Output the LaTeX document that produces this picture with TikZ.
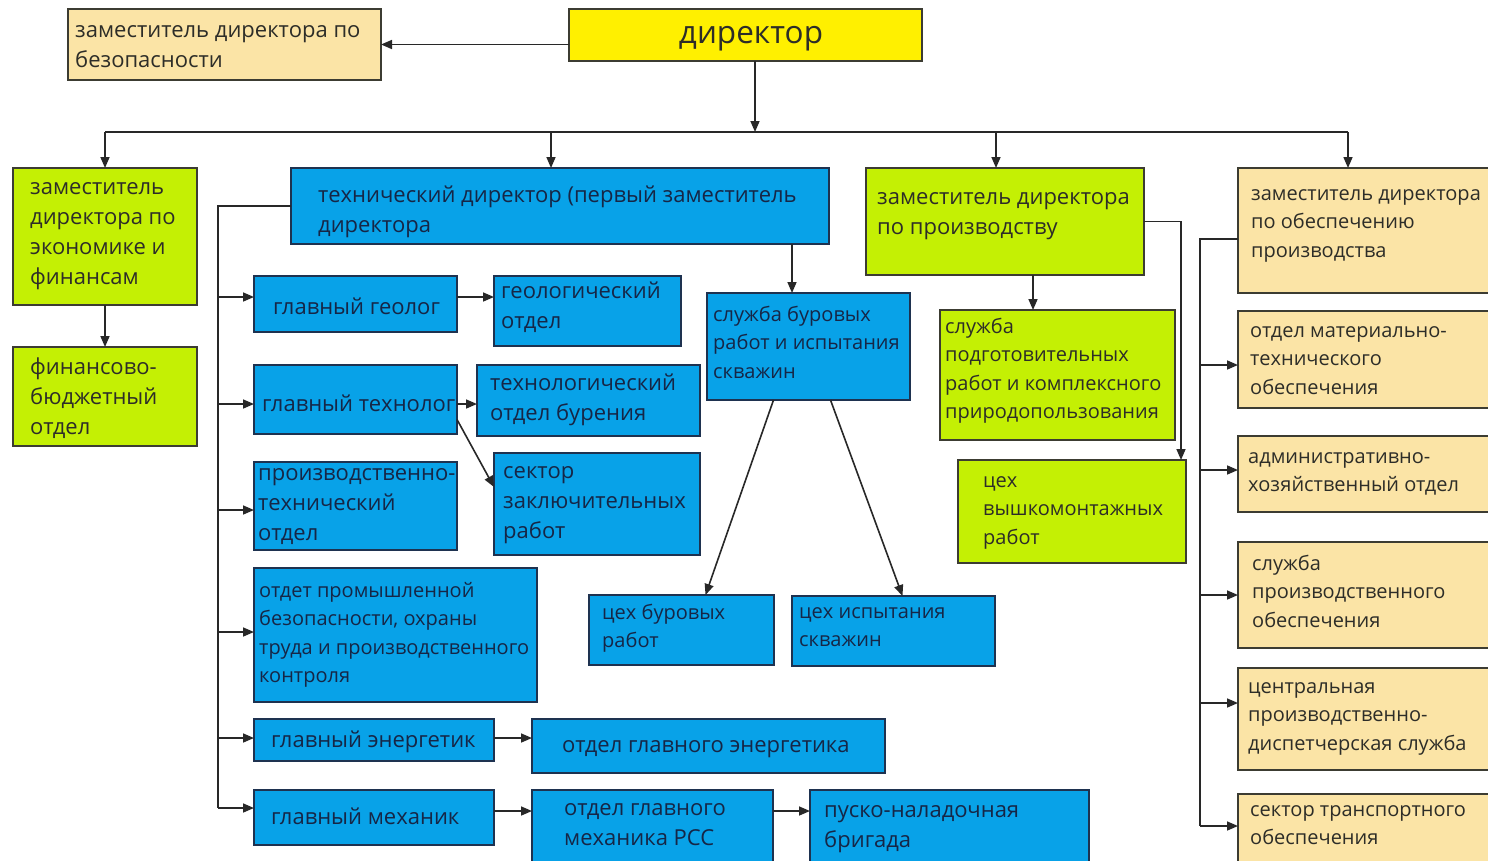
\documentclass[tikz,border=0pt]{standalone}
\usepackage{fontspec}
\setmainfont{Open Sans}
\usetikzlibrary{arrows.meta}
\definecolor{beige}{RGB}{251,228,166}
\definecolor{cyellow}{RGB}{255,240,0}
\definecolor{lime}{RGB}{196,240,4}
\definecolor{cblue}{RGB}{8,162,232}
\definecolor{boxline}{RGB}{60,60,50}
\definecolor{blueline}{RGB}{30,50,80}
\definecolor{lineclr}{RGB}{40,40,40}
\definecolor{txtdark}{RGB}{45,45,40}
\definecolor{txtblue}{RGB}{22,38,70}
\newcommand\rA{\rule{0pt}{21pt}}
\newcommand\rB{\rule{0pt}{20pt}}
\tikzset{
 boxbase/.style={draw=boxline, line width=1.7pt, anchor=north west, inner sep=0pt, outer sep=0pt},
 bg/.style={boxbase, fill=beige},
 bb/.style={boxbase, fill=cblue, draw=blueline},
 bl/.style={boxbase, fill=lime},
 by/.style={boxbase, fill=cyellow},
 tx/.style={anchor=north west, inner sep=0pt, align=left, font=\fontsize{22}{30}\selectfont, text=txtdark},
 ts/.style={anchor=north west, inner sep=0pt, align=left, font=\fontsize{20}{28.5}\selectfont, text=txtdark},
 tb/.style={text=txtblue},
 arr/.style={line width=1.6pt, draw=lineclr, -{Triangle[length=11pt,width=9pt]}},
 ln/.style={line width=1.6pt, draw=lineclr},
}
\begin{document}
\begin{tikzpicture}[x=1pt,y=-1pt]
\path[use as bounding box, fill=white] (0,0) rectangle (1488,860);
% boxes
\node[bg, minimum width=313pt, minimum height=71pt] (zb) at (68,9) {};
\node[by, minimum width=353pt, minimum height=52pt] (dir) at (569,9) {};
\node[bl, minimum width=184pt, minimum height=137pt] (econ) at (13,168) {};
\node[bl, minimum width=184pt, minimum height=99pt] (fin) at (13,347) {};
\node[bb, minimum width=538pt, minimum height=76pt] (tech) at (291,168) {};
\node[bb, minimum width=203pt, minimum height=56pt] (geo) at (254,276) {};
\node[bb, minimum width=187pt, minimum height=70pt] (geod) at (494,276) {};
\node[bb, minimum width=203pt, minimum height=69pt] (tlg) at (254,365) {};
\node[bb, minimum width=223pt, minimum height=71pt] (tlgd) at (477,365) {};
\node[bb, minimum width=203pt, minimum height=88pt] (pto) at (254,462) {};
\node[bb, minimum width=206pt, minimum height=102pt] (sec) at (494,453) {};
\node[bb, minimum width=283pt, minimum height=134pt] (prom) at (254,568) {};
\node[bb, minimum width=240pt, minimum height=42pt] (energ) at (254,719) {};
\node[bb, minimum width=353pt, minimum height=54pt] (energd) at (532,719) {};
\node[bb, minimum width=240pt, minimum height=55pt] (mech) at (254,790) {};
\node[bb, minimum width=241pt, minimum height=75pt] (mechd) at (532,790) {};
\node[bb, minimum width=279pt, minimum height=75pt] (pnb) at (810,790) {};
\node[bb, minimum width=203pt, minimum height=107pt] (sb) at (707,293) {};
\node[bb, minimum width=185pt, minimum height=70pt] (cb) at (589,595) {};
\node[bb, minimum width=203pt, minimum height=70pt] (ci) at (792,596) {};
\node[bl, minimum width=278pt, minimum height=107pt] (prod) at (866,168) {};
\node[bl, minimum width=235pt, minimum height=130pt] (sp) at (940,310) {};
\node[bl, minimum width=228pt, minimum height=103pt] (vm) at (958,460) {};
\node[bg, minimum width=260pt, minimum height=125pt] (sup) at (1238,168) {};
\node[bg, minimum width=260pt, minimum height=97pt] (s1) at (1238,311) {};
\node[bg, minimum width=260pt, minimum height=76pt] (s2) at (1238,436) {};
\node[bg, minimum width=260pt, minimum height=106pt] (s3) at (1238,542) {};
\node[bg, minimum width=260pt, minimum height=102pt] (s4) at (1238,668) {};
\node[bg, minimum width=260pt, minimum height=75pt] (s5) at (1238,794) {};
% texts
\node[tx] at (75,16) {\rA заместитель директора по\\безопасности};
\node[anchor=base, inner sep=0pt, font=\fontsize{31.5}{36}\selectfont, text=txtdark] at (751,43) {директор};
\node[tx] at (30,173) {\rA заместитель\\директора по\\экономике и\\финансам};
\node[tx] at (30,353) {\rA финансово-\\бюджетный\\отдел};
\node[tx,tb] at (318,181) {\rA технический директор (первый заместитель\\директора};
\node[tx,tb] at (273,293) {\rA главный геолог};
\node[tx,tb] at (501,277) {\rA геологический\\отдел};
\node[tx,tb] at (262,390) {\rA главный технолог};
\node[tx,tb] at (490,369) {\rA технологический\\отдел бурения};
\node[tx,tb] at (258,459) {\rA производственно-\\технический\\отдел};
\node[tx,tb] at (503,457) {\rA сектор\\заключительных\\работ};
\node[ts,tb] at (259,577) {\rB отдет промышленной\\безопасности, охраны\\труда и производственного\\контроля};
\node[tx,tb] at (271,726) {\rA главный энергетик};
\node[tx,tb] at (562,731) {\rA отдел главного энергетика};
\node[tx,tb] at (271,803) {\rA главный механик};
\node[tx,tb] at (564,794) {\rA отдел главного\\механика РСС};
\node[tx,tb] at (824,796) {\rA пуско-наладочная\\бригада};
\node[ts,tb] at (713,301) {\rB служба буровых\\работ и испытания\\скважин};
\node[ts,tb] at (602,599) {\rB цех буровых\\работ};
\node[ts,tb] at (799,598) {\rB цех испытания\\скважин};
\node[tx] at (877,183) {\rA заместитель директора\\по производству};
\node[ts] at (945,313) {\rB служба\\подготовительных\\работ и комплексного\\природопользования};
\node[ts] at (983,467) {\rB цех\\вышкомонтажных\\работ};
\node[ts] at (1251,180) {\rB заместитель директора\\по обеспечению\\производства};
\node[ts] at (1250,317) {\rB отдел материально-\\технического\\обеспечения};
\node[ts] at (1248,443) {\rB административно-\\хозяйственный отдел};
\node[ts] at (1252,550) {\rB служба\\производственного\\обеспечения};
\node[ts] at (1248,673) {\rB центральная\\производственно-\\диспетчерская служба};
\node[ts] at (1250,796) {\rB сектор транспортного\\обеспечения};
% connectors
\draw[arr] (dir.west |- zb.east) -- (zb.east);
\coordinate (bc) at (755,132);
\coordinate (bL) at (105,132);
\coordinate (bR) at (1348,132);
\coordinate (bT) at (551,132);
\coordinate (bP) at (996,132);
\draw[arr] (dir.south -| bc) -- (bc);
\draw[ln] (bL) -- (bR);
\draw[arr] (bL) -- (econ.north);
\draw[arr] (bT) -- (bT |- tech.north);
\draw[arr] (bP) -- (bP |- prod.north);
\draw[arr] (bR) -- (bR |- sup.north);
\draw[arr] (econ.south) -- (fin.north);
% technical director bus
\coordinate (t1) at (218,297);
\coordinate (t2) at (218,404);
\coordinate (t3) at (218,510);
\coordinate (t4) at (218,632);
\coordinate (t5) at (218,738);
\coordinate (t6) at (218,808);
\draw[ln] (tech.west) -| (t6);
\draw[arr] (t1) -- (t1 -| geo.west);
\draw[arr] (t2) -- (t2 -| tlg.west);
\draw[arr] (t3) -- (t3 -| pto.west);
\draw[arr] (t4) -- (t4 -| prom.west);
\draw[arr] (t5) -- (t5 -| energ.west);
\draw[arr] (t6) -- (t6 -| mech.west);
\draw[arr] (t1 -| geo.east) -- (t1 -| geod.west);
\draw[arr] (t2 -| tlg.east) -- (t2 -| tlgd.west);
\draw[arr] ([yshift=-20pt]tlg.east) -- ([yshift=17pt]sec.west);
\draw[arr] (t5 -| energ.east) -- (t5 -| energd.west);
\coordinate (m1) at (0,811);
\draw[arr] (m1 -| mech.east) -- (m1 -| mechd.west);
\draw[arr] (m1 -| mechd.east) -- (m1 -| pnb.west);
\coordinate (x792) at (792,0);
\draw[arr] (tech.south -| x792) -- (sb.north -| x792);
\draw[arr] ([xshift=-35pt]sb.south) -- ([xshift=24pt]cb.north);
\draw[arr] ([xshift=22pt]sb.south) -- ([xshift=9pt]ci.north);
% production
\coordinate (x1033) at (1033,0);
\draw[arr] (prod.south -| x1033) -- (sp.north -| x1033);
\coordinate (x1181) at (1181,0);
\draw[arr] (prod.east) -| (vm.north -| x1181);
% supply bus
\coordinate (u1) at (1200,365);
\coordinate (u2) at (1200,470);
\coordinate (u3) at (1200,595);
\coordinate (u4) at (1200,703);
\coordinate (u5) at (1200,826);
\coordinate (u0) at (1200,239);
\draw[ln] (u0 -| sup.west) -- (u0) -- (u5);
\draw[arr] (u1) -- (u1 -| s1.west);
\draw[arr] (u2) -- (u2 -| s2.west);
\draw[arr] (u3) -- (u3 -| s3.west);
\draw[arr] (u4) -- (u4 -| s4.west);
\draw[arr] (u5) -- (u5 -| s5.west);
\end{tikzpicture}
\end{document}
